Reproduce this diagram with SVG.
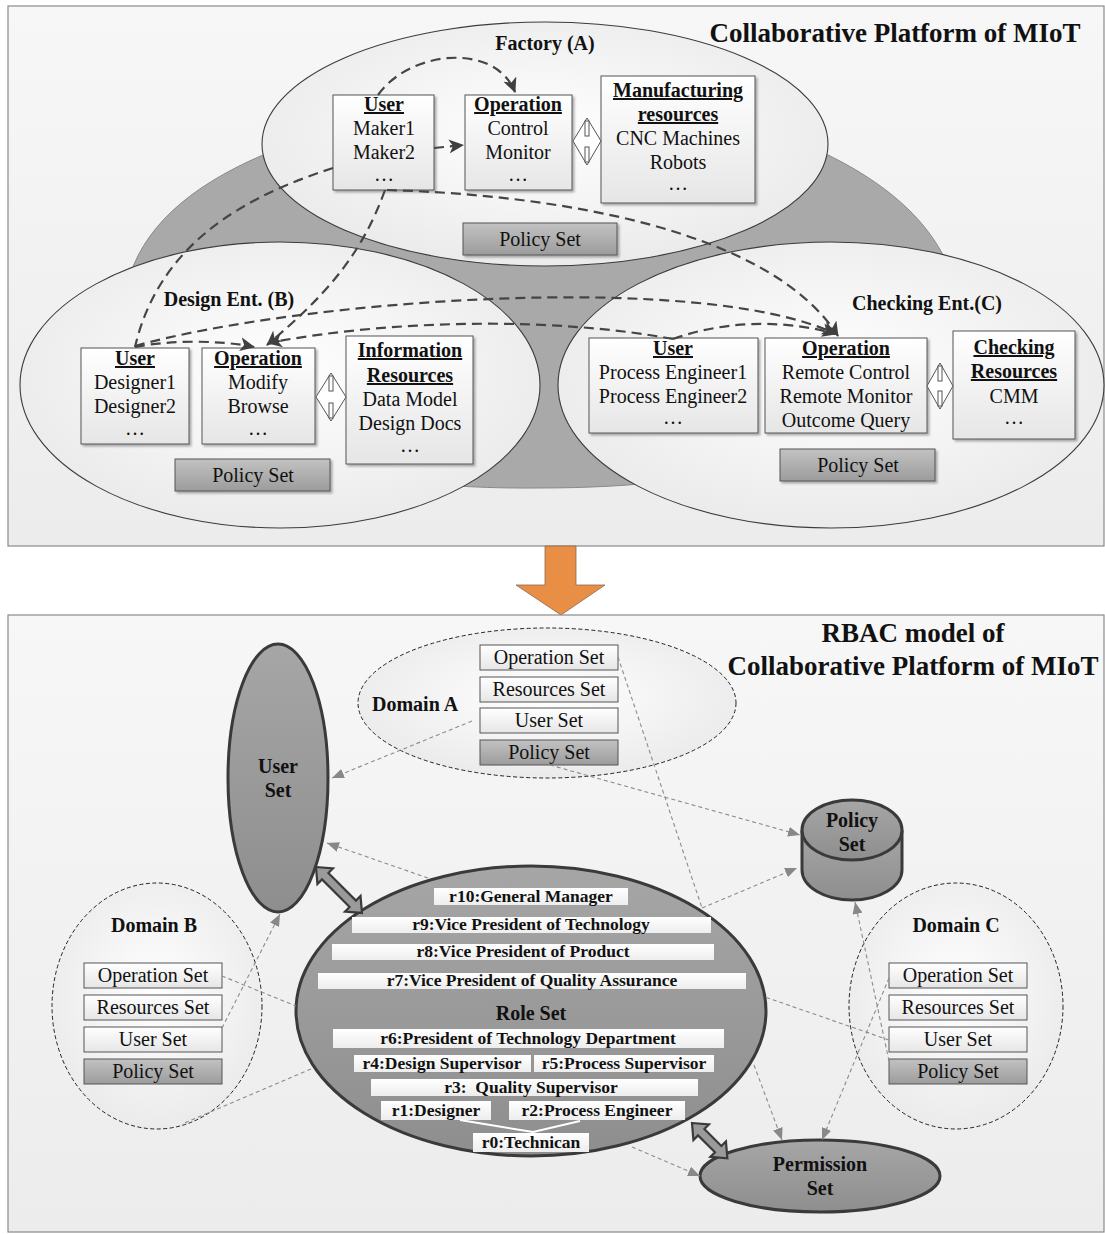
<svg xmlns="http://www.w3.org/2000/svg" width="1105" height="1234" viewBox="0 0 1105 1234">
  <defs>
    <linearGradient id="panelBg" x1="0" y1="0" x2="0" y2="1">
      <stop offset="0" stop-color="#f7f7f7"/>
      <stop offset="1" stop-color="#ececec"/>
    </linearGradient>
    <radialGradient id="ovalBg" cx="0.5" cy="0.45" r="0.6">
      <stop offset="0" stop-color="#ffffff"/>
      <stop offset="1" stop-color="#e9e9e9"/>
    </radialGradient>
    <linearGradient id="boxBg" x1="0" y1="0" x2="0" y2="1">
      <stop offset="0" stop-color="#ffffff"/>
      <stop offset="1" stop-color="#e6e6e6"/>
    </linearGradient>
    <linearGradient id="policyBg" x1="0" y1="0" x2="0" y2="1">
      <stop offset="0" stop-color="#c2c2c2"/>
      <stop offset="1" stop-color="#9c9c9c"/>
    </linearGradient>
    <linearGradient id="darkBg" x1="0" y1="0" x2="0" y2="1">
      <stop offset="0" stop-color="#a6a6a6"/>
      <stop offset="1" stop-color="#8e8e8e"/>
    </linearGradient>
    <linearGradient id="roleBg" x1="0" y1="0" x2="0" y2="1">
      <stop offset="0" stop-color="#ffffff"/>
      <stop offset="1" stop-color="#ededed"/>
    </linearGradient>
    <filter id="shadow" x="-10%" y="-10%" width="130%" height="130%">
      <feDropShadow dx="2" dy="2" stdDeviation="1.2" flood-color="#000" flood-opacity="0.3"/>
    </filter>
    <marker id="ah" markerUnits="userSpaceOnUse" markerWidth="16" markerHeight="14" refX="14" refY="7" orient="auto">
      <path d="M0,0 L15,7 L0,14 L4,7 Z" fill="#404040"/>
    </marker>
    <marker id="ag" markerUnits="userSpaceOnUse" markerWidth="13" markerHeight="10" refX="12" refY="5" orient="auto">
      <path d="M0,0 L12,5 L0,10 Z" fill="#888"/>
    </marker>
    <style>
      .t { font-family: "Liberation Serif", "Times New Roman", serif; fill: #111; }
      .box { font-size: 20px; text-anchor: middle; }
      .hd { font-weight: bold; text-decoration: underline; }
      .lbl { font-size: 20px; font-weight: bold; }
      .title { font-size: 27px; font-weight: bold; text-anchor: middle; }
      .role { font-size: 17.5px; font-weight: bold; text-anchor: middle; }
      .big { font-size: 20px; font-weight: bold; text-anchor: middle; }
      .panel { fill: url(#panelBg); stroke: #8a8a8a; stroke-width: 1.2; }
      .oval { fill: url(#ovalBg); stroke: #3c3c3c; stroke-width: 1.1; }
      .card { fill: url(#boxBg); stroke: #555; stroke-width: 1; filter: url(#shadow); }
      .pol { fill: url(#policyBg); stroke: #555; stroke-width: 1; filter: url(#shadow); }
      .set { fill: url(#boxBg); stroke: #555; stroke-width: 1; }
      .setp { fill: url(#policyBg); stroke: #555; stroke-width: 1; }
      .dom { fill: url(#ovalBg); stroke: #222; stroke-width: 1; stroke-dasharray: 4 2.5; }
      .dark { fill: url(#darkBg); stroke: #3a3a3a; stroke-width: 3; }
      .rrect { fill: url(#roleBg); }
      .hollow { fill: #fff; stroke: #555; stroke-width: 1; }
      .flow { fill: none; stroke: #454545; stroke-width: 2.2; stroke-dasharray: 10 6; }
      .thin { fill: none; stroke: #8c8c8c; stroke-width: 1.1; stroke-dasharray: 4 3; }
      .fat { fill: #9a9a9a; stroke: #3a3a3a; stroke-width: 2.2; stroke-linejoin: miter; }
    </style>
  </defs>

  <!-- ===== Upper panel: collaborative platform ===== -->
  <rect class="panel" x="8" y="6" width="1096" height="540"/>
  <text class="t title" x="895" y="42">Collaborative Platform of MIoT</text>

  <!-- shared gray backdrop behind the three enterprises -->
  <path d="M 275 150 C 200 180 148 220 130 275 L 130 350 C 200 450 350 490 540 488 C 730 488 880 450 950 350 L 950 270 C 930 220 885 182 822 152 Z" fill="#a9a9a9" stroke="#8a8a8a" stroke-width="1"/>

  <g id="factory">
    <ellipse class="oval" cx="545" cy="144" rx="283" ry="122"/>
    <text class="t lbl" x="545" y="50" text-anchor="middle">Factory (A)</text>
  </g>
  <g id="design-ent">
    <ellipse class="oval" cx="280" cy="385" rx="260" ry="143"/>
    <text class="t lbl" x="229" y="306" text-anchor="middle">Design Ent. (B)</text>
  </g>
  <g id="checking-ent">
    <ellipse class="oval" cx="831" cy="385" rx="273" ry="143"/>
    <text class="t lbl" x="927" y="310" text-anchor="middle">Checking Ent.(C)</text>
  </g>

  <!-- Factory (A) contents -->
  <g id="a-user">
    <rect class="card" x="333" y="95" width="101" height="95"/>
    <text class="t box" x="384"><tspan class="hd" x="384" y="111">User</tspan><tspan x="384" y="135">Maker1</tspan><tspan x="384" y="159">Maker2</tspan><tspan x="384" y="181">…</tspan></text>
  </g>
  <g id="a-operation">
    <rect class="card" x="465" y="95" width="107" height="95"/>
    <text class="t box" x="518"><tspan class="hd" x="518" y="111">Operation</tspan><tspan x="518" y="135">Control</tspan><tspan x="518" y="159">Monitor</tspan><tspan x="518" y="181">…</tspan></text>
  </g>
  <g id="a-resources">
    <rect class="card" x="601" y="76" width="154" height="127"/>
    <text class="t box" x="678"><tspan class="hd" x="678" y="97">Manufacturing</tspan><tspan class="hd" x="678" y="121">resources</tspan><tspan x="678" y="145">CNC Machines</tspan><tspan x="678" y="169">Robots</tspan><tspan x="678" y="190">…</tspan></text>
  </g>
  <g id="a-policy">
    <rect class="pol" x="463" y="223" width="154" height="32"/>
    <text class="t box" x="540" y="246">Policy Set</text>
  </g>
  <g id="a-link">
    <path class="hollow" d="M573,141 L587,118 L601,141 L587,165 Z"/>
    <rect class="hollow" x="585" y="121" width="4" height="15"/>
    <rect class="hollow" x="585" y="147" width="4" height="15"/>
  </g>

  <!-- Design Ent. (B) contents -->
  <g id="b-user">
    <rect class="card" x="81" y="348" width="108" height="96"/>
    <text class="t box" x="135"><tspan class="hd" x="135" y="365">User</tspan><tspan x="135" y="389">Designer1</tspan><tspan x="135" y="413">Designer2</tspan><tspan x="135" y="435">…</tspan></text>
  </g>
  <g id="b-operation">
    <rect class="card" x="202" y="348" width="113" height="96"/>
    <text class="t box" x="258"><tspan class="hd" x="258" y="365">Operation</tspan><tspan x="258" y="389">Modify</tspan><tspan x="258" y="413">Browse</tspan><tspan x="258" y="435">…</tspan></text>
  </g>
  <g id="b-resources">
    <rect class="card" x="346" y="336" width="127" height="128"/>
    <text class="t box" x="410"><tspan class="hd" x="410" y="357">Information</tspan><tspan class="hd" x="410" y="382">Resources</tspan><tspan x="410" y="406">Data Model</tspan><tspan x="410" y="430">Design Docs</tspan><tspan x="410" y="452">…</tspan></text>
  </g>
  <g id="b-policy">
    <rect class="pol" x="175" y="459" width="155" height="32"/>
    <text class="t box" x="253" y="482">Policy Set</text>
  </g>
  <g id="b-link">
    <path class="hollow" d="M316,397 L331,373 L346,397 L331,421 Z"/>
    <rect class="hollow" x="329" y="376" width="4" height="15"/>
    <rect class="hollow" x="329" y="403" width="4" height="15"/>
  </g>

  <!-- Checking Ent. (C) contents -->
  <g id="c-user">
    <rect class="card" x="589" y="338" width="169" height="95"/>
    <text class="t box" x="673"><tspan class="hd" x="673" y="355">User</tspan><tspan x="673" y="379">Process Engineer1</tspan><tspan x="673" y="403">Process Engineer2</tspan><tspan x="673" y="424">…</tspan></text>
  </g>
  <g id="c-operation">
    <rect class="card" x="765" y="338" width="162" height="95"/>
    <text class="t box" x="846"><tspan class="hd" x="846" y="355">Operation</tspan><tspan x="846" y="379">Remote Control</tspan><tspan x="846" y="403">Remote Monitor</tspan><tspan x="846" y="427">Outcome Query</tspan></text>
  </g>
  <g id="c-resources">
    <rect class="card" x="953" y="331" width="122" height="108"/>
    <text class="t box" x="1014"><tspan class="hd" x="1014" y="354">Checking</tspan><tspan class="hd" x="1014" y="378">Resources</tspan><tspan x="1014" y="403">CMM</tspan><tspan x="1014" y="424">…</tspan></text>
  </g>
  <g id="c-policy">
    <rect class="pol" x="780" y="449" width="155" height="32"/>
    <text class="t box" x="858" y="472">Policy Set</text>
  </g>
  <g id="c-link">
    <path class="hollow" d="M927,386 L940,363 L953,386 L940,409 Z"/>
    <rect class="hollow" x="938" y="366" width="4" height="15"/>
    <rect class="hollow" x="938" y="391" width="4" height="15"/>
  </g>

  <!-- dashed access flows between enterprises -->
  <g id="flows">
    <path class="flow" d="M 378 95 C 410 50 495 42 515 92" marker-end="url(#ah)"/>
    <path class="flow" d="M 434 148 L 463 145" marker-end="url(#ah)"/>
    <path class="flow" d="M 333 168 C 250 195 160 240 135 347"/>
    <path class="flow" d="M 385 190 C 360 260 320 300 267 345" marker-end="url(#ah)"/>
    <path class="flow" d="M 387 190 C 560 195 770 230 838 336" marker-end="url(#ah)"/>
    <path class="flow" d="M 135 347 C 170 340 220 340 254 347" marker-end="url(#ah)"/>
    <path class="flow" d="M 135 346 C 300 300 700 270 836 334" marker-end="url(#ah)"/>
    <path class="flow" d="M 673 339 C 560 318 400 318 268 343" marker-end="url(#ah)"/>
    <path class="flow" d="M 673 339 C 720 322 780 318 836 334" marker-end="url(#ah)"/>
  </g>

  <!-- transition arrow -->
  <path d="M545,546 L576,546 L576,585 L605,585 L561,615 L516,585 L545,585 Z" fill="#e98e45" stroke="#8a6a50" stroke-width="0.8"/>

  <!-- ===== Lower panel: RBAC model ===== -->
  <rect class="panel" x="8" y="615" width="1096" height="617"/>
  <text class="t title" x="913" y="642">RBAC model of</text>
  <text class="t title" x="913" y="675">Collaborative Platform of MIoT</text>

  <g id="domain-a">
    <ellipse class="dom" cx="547" cy="703" rx="189" ry="75"/>
    <text class="t lbl" x="372" y="711">Domain A</text>
    <rect class="set" x="480" y="645" width="138" height="25"/>
    <text class="t box" x="549" y="664">Operation Set</text>
    <rect class="set" x="480" y="677" width="138" height="25"/>
    <text class="t box" x="549" y="696">Resources Set</text>
    <rect class="set" x="480" y="708" width="138" height="25"/>
    <text class="t box" x="549" y="727">User Set</text>
    <rect class="setp" x="480" y="740" width="138" height="25"/>
    <text class="t box" x="549" y="759">Policy Set</text>
  </g>

  <g id="domain-b">
    <ellipse class="dom" cx="157" cy="1006" rx="105" ry="123"/>
    <text class="t lbl" x="154" y="932" text-anchor="middle">Domain B</text>
    <rect class="set" x="84" y="963" width="138" height="25"/>
    <text class="t box" x="153" y="982">Operation Set</text>
    <rect class="set" x="84" y="995" width="138" height="25"/>
    <text class="t box" x="153" y="1014">Resources Set</text>
    <rect class="set" x="84" y="1027" width="138" height="25"/>
    <text class="t box" x="153" y="1046">User Set</text>
    <rect class="setp" x="84" y="1059" width="138" height="25"/>
    <text class="t box" x="153" y="1078">Policy Set</text>
  </g>

  <g id="domain-c">
    <ellipse class="dom" cx="956" cy="1006" rx="107" ry="123"/>
    <text class="t lbl" x="956" y="932" text-anchor="middle">Domain C</text>
    <rect class="set" x="889" y="963" width="138" height="25"/>
    <text class="t box" x="958" y="982">Operation Set</text>
    <rect class="set" x="889" y="995" width="138" height="25"/>
    <text class="t box" x="958" y="1014">Resources Set</text>
    <rect class="set" x="889" y="1027" width="138" height="25"/>
    <text class="t box" x="958" y="1046">User Set</text>
    <rect class="setp" x="889" y="1059" width="138" height="25"/>
    <text class="t box" x="958" y="1078">Policy Set</text>
  </g>

  <g id="user-set">
    <ellipse class="dark" cx="278" cy="778" rx="50" ry="134"/>
    <text class="t big" x="278" y="773">User</text>
    <text class="t big" x="278" y="797">Set</text>
  </g>

  <g id="policy-set">
    <path class="dark" d="M802,830 L802,870 A50,30 0 0 0 902,870 L902,830"/>
    <ellipse class="dark" cx="852" cy="830" rx="50" ry="30"/>
    <text class="t big" x="852" y="827">Policy</text>
    <text class="t big" x="852" y="851">Set</text>
  </g>

  <g id="permission-set">
    <ellipse class="dark" cx="820" cy="1176" rx="120" ry="36"/>
    <text class="t big" x="820" y="1171">Permission</text>
    <text class="t big" x="820" y="1195">Set</text>
  </g>

  <g id="role-set">
    <ellipse class="dark" cx="531" cy="1011" rx="235" ry="145"/>
    <rect class="rrect" x="434" y="888" width="194" height="17"/>
    <text class="t role" x="531" y="902">r10:General Manager</text>
    <rect class="rrect" x="352" y="917" width="359" height="16"/>
    <text class="t role" x="531" y="930">r9:Vice President of Technology</text>
    <rect class="rrect" x="332" y="944" width="382" height="16"/>
    <text class="t role" x="523" y="957">r8:Vice President of Product</text>
    <rect class="rrect" x="318" y="973" width="428" height="16"/>
    <text class="t role" x="532" y="986">r7:Vice President of Quality Assurance</text>
    <text class="t big" x="531" y="1020">Role Set</text>
    <rect class="rrect" x="333" y="1029" width="391" height="19"/>
    <text class="t role" x="528" y="1044">r6:President of Technology Department</text>
    <rect class="rrect" x="354" y="1055" width="177" height="17"/>
    <text class="t role" x="442" y="1069">r4:Design Supervisor</text>
    <rect class="rrect" x="534" y="1055" width="180" height="17"/>
    <text class="t role" x="624" y="1069">r5:Process Supervisor</text>
    <rect class="rrect" x="371" y="1079" width="327" height="17"/>
    <text class="t role" x="531" y="1093">r3:&#160; Quality Supervisor</text>
    <rect class="rrect" x="381" y="1101" width="110" height="19"/>
    <text class="t role" x="436" y="1116">r1:Designer</text>
    <rect class="rrect" x="509" y="1101" width="176" height="19"/>
    <text class="t role" x="597" y="1116">r2:Process Engineer</text>
    <polyline points="460,1120 533,1132 580,1121" fill="none" stroke="#fff" stroke-width="2"/>
    <rect class="rrect" x="473" y="1133" width="116" height="19"/>
    <text class="t role" x="531" y="1148">r0:Technican</text>
  </g>

  <!-- assignment arrows (user-role, role-permission) -->
  <g id="assignments">
    <path class="fat" d="M0,0 L13,-11 L13,-4.5 L52,-4.5 L52,-11 L65,0 L52,11 L52,4.5 L13,4.5 L13,11 Z" transform="translate(316,867) rotate(45)"/>
    <path class="fat" d="M0,0 L13,-11 L13,-4.5 L37,-4.5 L37,-11 L50,0 L37,11 L37,4.5 L13,4.5 L13,11 Z" transform="translate(692,1123) rotate(45)"/>
  </g>

  <!-- thin dashed relations between domains and global sets -->
  <g id="relations">
    <path class="thin" d="M472,721 L332,778" marker-end="url(#ag)"/>
    <path class="thin" d="M550,765 L800,835" marker-end="url(#ag)"/>
    <path class="thin" d="M618,657 L702,908"/>
    <path class="thin" d="M702,908 L797,868" marker-end="url(#ag)"/>
    <path class="thin" d="M428,878 L327,843" marker-end="url(#ag)"/>
    <path class="thin" d="M222,1028 L280,914" marker-end="url(#ag)"/>
    <path class="thin" d="M222,976 L296,1006"/>
    <path class="thin" d="M311,1069 L182,1124"/>
    <path class="thin" d="M889,1040 L762,996"/>
    <path class="thin" d="M889,1061 L855,902" marker-end="url(#ag)"/>
    <path class="thin" d="M889,978 L822,1140" marker-end="url(#ag)"/>
    <path class="thin" d="M754,1065 L782,1140" marker-end="url(#ag)"/>
    <path class="thin" d="M632,1147 L700,1176" marker-end="url(#ag)"/>
  </g>
</svg>
